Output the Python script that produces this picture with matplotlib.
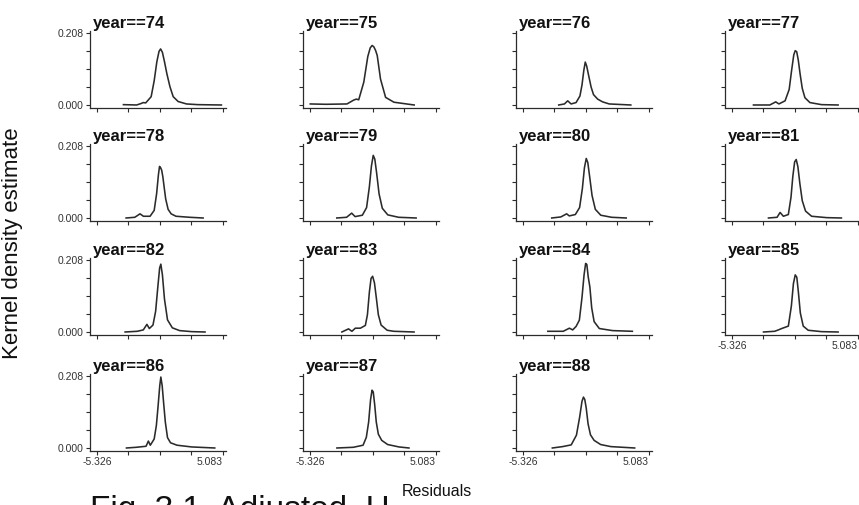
import matplotlib
matplotlib.use('Agg')
import matplotlib.pyplot as plt

plt.rcParams['font.family'] = ['Liberation Sans', 'DejaVu Sans']

years = [74, 75, 76, 77, 78, 79, 80, 81, 82, 83, 84, 85, 86, 87, 88]

# residual (x) and kernel density (y)
res_74 = [-3.14, -2.05, -1.7, -1.5, -1.3, -0.85, -0.6, -0.38, -0.2, -0.07, 0.08, 0.25, 0.45, 0.7, 0.97, 1.38, 2.07, 3.0, 4.95]
kde_74 = [0.001, 0.0, 0.004, 0.007, 0.006, 0.024, 0.07, 0.125, 0.155, 0.162, 0.152, 0.125, 0.09, 0.053, 0.024, 0.01, 0.003, 0.001, 0.0]
res_75 = [-5.3, -4.0, -2.27, -1.72, -1.5, -1.3, -0.88, -0.55, -0.35, -0.19, -0.05, 0.09, 0.23, 0.5, 0.92, 1.61, 3.28]
kde_75 = [0.003, 0.002, 0.003, 0.014, 0.017, 0.015, 0.066, 0.14, 0.165, 0.172, 0.168, 0.158, 0.143, 0.075, 0.022, 0.008, 0.0]
res_76 = [-2.37, -1.9, -1.63, -1.35, -0.94, -0.62, -0.45, -0.3, -0.18, -0.06, 0.1, 0.3, 0.5, 0.84, 1.25, 1.8, 3.58]
kde_76 = [0.0, 0.003, 0.012, 0.003, 0.007, 0.026, 0.058, 0.1, 0.124, 0.112, 0.085, 0.052, 0.03, 0.017, 0.009, 0.003, 0.0]
res_77 = [-3.55, -2.2, -1.71, -1.45, -0.94, -0.6, -0.4, -0.22, -0.1, 0.02, 0.15, 0.3, 0.48, 0.7, 1.11, 2.07, 3.44]
kde_77 = [0.0, 0.0, 0.009, 0.003, 0.012, 0.045, 0.1, 0.145, 0.157, 0.154, 0.13, 0.09, 0.048, 0.021, 0.007, 0.001, 0.0]
res_78 = [-2.92, -2.2, -1.77, -1.49, -0.94, -0.6, -0.4, -0.25, -0.16, -0.08, 0.02, 0.12, 0.22, 0.35, 0.55, 0.8, 1.2, 2.34, 3.44]
kde_78 = [0.0, 0.002, 0.012, 0.005, 0.005, 0.022, 0.07, 0.125, 0.149, 0.146, 0.138, 0.118, 0.09, 0.055, 0.025, 0.012, 0.005, 0.002, 0.0]
res_79 = [-3.11, -2.3, -1.88, -1.6, -1.0, -0.65, -0.42, -0.25, -0.1, 0.03, 0.18, 0.38, 0.65, 1.1, 2.0, 3.44]
kde_79 = [0.0, 0.002, 0.014, 0.004, 0.008, 0.03, 0.09, 0.15, 0.181, 0.17, 0.13, 0.07, 0.028, 0.009, 0.002, 0.0]
res_80 = [-2.95, -2.2, -1.72, -1.5, -1.0, -0.65, -0.42, -0.25, -0.1, 0.03, 0.18, 0.38, 0.65, 1.1, 2.0, 3.2]
kde_80 = [0.0, 0.003, 0.012, 0.006, 0.01, 0.03, 0.085, 0.145, 0.172, 0.16, 0.12, 0.065, 0.025, 0.008, 0.002, 0.0]
res_81 = [-2.31, -1.6, -1.35, -1.08, -0.67, -0.45, -0.3, -0.15, -0.02, 0.12, 0.28, 0.48, 0.75, 1.25, 2.5, 3.71]
kde_81 = [0.0, 0.002, 0.016, 0.005, 0.01, 0.06, 0.12, 0.162, 0.169, 0.148, 0.1, 0.05, 0.02, 0.005, 0.001, 0.0]
res_82 = [-3.0, -2.0, -1.5, -1.2, -1.0, -0.7, -0.48, -0.3, -0.15, -0.05, 0.08, 0.25, 0.5, 0.9, 1.5, 2.5, 3.6]
kde_82 = [0.0, 0.002, 0.006, 0.022, 0.01, 0.02, 0.06, 0.13, 0.185, 0.196, 0.165, 0.095, 0.035, 0.012, 0.004, 0.001, 0.0]
res_83 = [-2.69, -2.14, -1.86, -1.58, -1.16, -0.75, -0.58, -0.42, -0.28, -0.15, 0.0, 0.15, 0.32, 0.55, 1.05, 1.6, 3.27]
kde_83 = [0.0, 0.009, 0.002, 0.011, 0.011, 0.019, 0.05, 0.115, 0.155, 0.161, 0.142, 0.1, 0.05, 0.02, 0.005, 0.002, 0.0]
res_84 = [-3.27, -2.0, -1.49, -1.22, -0.94, -0.67, -0.45, -0.28, -0.15, -0.05, 0.06, 0.2, 0.35, 0.55, 0.98, 2.07, 3.71]
kde_84 = [0.002, 0.002, 0.011, 0.006, 0.016, 0.034, 0.1, 0.165, 0.198, 0.195, 0.16, 0.13, 0.07, 0.03, 0.01, 0.004, 0.002]
res_85 = [-2.72, -1.8, -1.49, -1.22, -0.67, -0.42, -0.25, -0.1, 0.03, 0.16, 0.32, 0.56, 0.97, 2.07, 3.44]
kde_85 = [0.0, 0.002, 0.006, 0.01, 0.017, 0.075, 0.14, 0.165, 0.158, 0.115, 0.055, 0.017, 0.005, 0.001, 0.0]
res_86 = [-2.89, -2.08, -1.27, -1.08, -0.92, -0.6, -0.42, -0.28, -0.14, -0.05, 0.06, 0.18, 0.32, 0.5, 0.75, 1.29, 2.5, 4.4]
kde_86 = [0.0, 0.002, 0.005, 0.02, 0.008, 0.026, 0.065, 0.12, 0.18, 0.205, 0.18, 0.13, 0.075, 0.03, 0.015, 0.008, 0.003, 0.0]
res_87 = [-3.1, -1.75, -0.94, -0.67, -0.48, -0.32, -0.2, -0.1, 0.02, 0.15, 0.32, 0.6, 1.09, 2.03, 2.85]
kde_87 = [0.0, 0.002, 0.008, 0.031, 0.075, 0.14, 0.167, 0.162, 0.125, 0.075, 0.04, 0.022, 0.01, 0.003, 0.0]
res_88 = [-2.9, -2.05, -1.34, -0.91, -0.65, -0.45, -0.33, -0.22, -0.1, 0.05, 0.25, 0.55, 1.09, 1.93, 3.9]
kde_88 = [0.0, 0.004, 0.009, 0.037, 0.088, 0.135, 0.147, 0.14, 0.115, 0.07, 0.038, 0.022, 0.01, 0.004, 0.0]

xticks = [-5.326, -2.724, -0.122, 2.481, 5.083]
xticklabels = ['-5.326', '', '', '', '5.083']
yticks = [0.0, 0.052, 0.104, 0.156, 0.208]
yticklabels = ['0.000', '', '', '', '0.208']

curves = {
    74: (res_74, kde_74), 75: (res_75, kde_75), 76: (res_76, kde_76), 77: (res_77, kde_77),
    78: (res_78, kde_78), 79: (res_79, kde_79), 80: (res_80, kde_80), 81: (res_81, kde_81),
    82: (res_82, kde_82), 83: (res_83, kde_83), 84: (res_84, kde_84), 85: (res_85, kde_85),
    86: (res_86, kde_86), 87: (res_87, kde_87), 88: (res_88, kde_88),
}

W, H = 859, 505
fig = plt.figure(figsize=(W / 100, H / 100), dpi=100)

col_x = [90, 303, 516, 725]        # y-axis position of each column (px)
row_bottom = [108, 221, 335, 451]  # x-axis position of each row (px)
ax_w, ax_h = 136, 77

ink = '#2b2b2b'
for i, yr in enumerate(years):
    r, c = divmod(i, 4)
    ax = fig.add_axes([col_x[c] / W, 1 - row_bottom[r] / H, ax_w / W, ax_h / H])
    x, y = curves[yr]
    ax.plot(x, y, color=ink, lw=1.15)
    ax.set_xlim(-5.9, 5.33)
    ax.set_ylim(-0.0087, 0.2138)
    for s in ['top', 'right']:
        ax.spines[s].set_visible(False)
    for s in ['left', 'bottom']:
        ax.spines[s].set_color(ink)
        ax.spines[s].set_linewidth(0.9)
    ax.set_xticks(xticks)
    ax.set_yticks(yticks)
    ax.tick_params(length=3, width=0.8, color=ink, labelsize=7.5, labelcolor='#333333', pad=1.5)
    # tick labels only on the outer panels
    if c == 0:
        ax.set_yticklabels(yticklabels)
    else:
        ax.set_yticklabels([])
    last_in_col = (r == 3) or (r == 2 and c == 3)
    if last_in_col:
        ax.set_xticklabels(xticklabels)
        labs = ax.get_xticklabels()
        labs[0].set_ha('center')
        labs[-1].set_ha('right')
    else:
        ax.set_xticklabels([])
    ax.text(0.02, 1.0, 'year==%d' % yr, transform=ax.transAxes, fontsize=12, fontweight='bold',
            color='#111111', ha='left', va='bottom')

fig.text(13 / W, 1 - 243 / H, 'Kernel density estimate', rotation=90, fontsize=16,
         ha='center', va='center', color='#111111')
fig.text(437 / W, 1 - 492 / H, 'Residuals', fontsize=11.5, ha='center', va='center', color='#111111')
# scanned caption, only its top half is inside the page
fig.text(90 / W, 1 - 495 / H, 'Fig. 3.1  Adjusted  H', fontsize=24, ha='left', va='top', color='#111111')

fig.savefig('out.png', dpi=100)
